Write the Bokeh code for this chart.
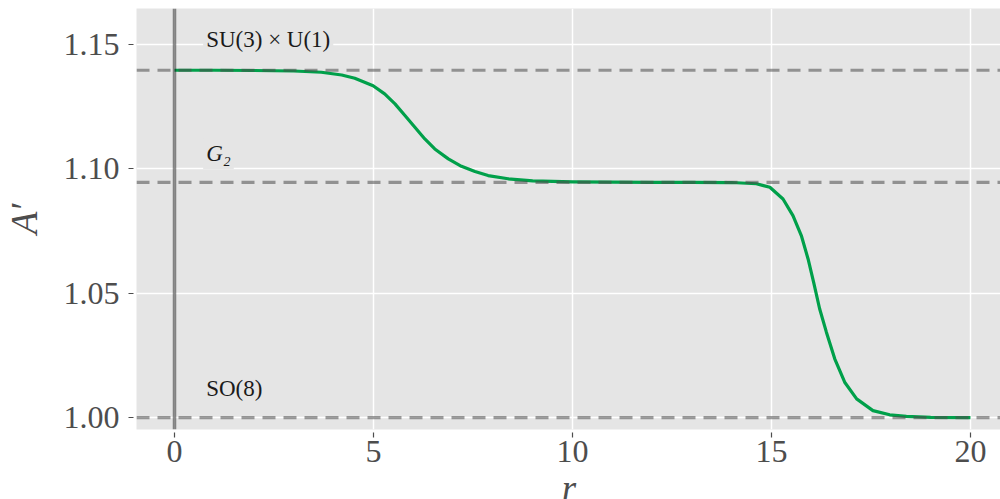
from bokeh.plotting import figure
from bokeh.models import Span, Label, Range1d, FixedTicker
from bokeh.embed import file_html
from bokeh.resources import INLINE

# flow of A' along the domain-wall coordinate r
r_vals = [0, 1, 2, 3, 3.69, 4.20, 4.53, 4.99, 5.28, 5.54, 5.79, 6.04, 6.29,
          6.54, 6.88, 7.21, 7.55, 7.88, 8.38, 9, 10, 11, 12, 13, 14, 14.62,
          14.96, 15.29, 15.54, 15.75, 15.92, 16.06, 16.21, 16.38, 16.59,
          16.84, 17.14, 17.55, 17.97, 18.39, 19, 20]
a_vals = [1.1395, 1.1395, 1.1394, 1.1392, 1.1387, 1.1376, 1.1363, 1.1333,
          1.1300, 1.1260, 1.1213, 1.1166, 1.1119, 1.1079, 1.1039, 1.1009,
          1.0988, 1.0972, 1.0959, 1.0951, 1.0947, 1.0946, 1.0945, 1.0945,
          1.0944, 1.0939, 1.0925, 1.0878, 1.0811, 1.0731, 1.0637, 1.0543,
          1.0437, 1.0343, 1.0236, 1.0142, 1.0075, 1.0028, 1.0011, 1.0005,
          1.0001, 1.0000]

# fixed points and their names
levels = [1.1395, 1.0945, 1.0]
level_names = ["SU(3) × U(1)", "G₂", "SO(8)"]
level_label_y = [1.1518, 1.1060, 1.0117]
level_label_style = ["normal", "italic", "normal"]
label_x = 0.72

x_ticks = [0, 5, 10, 15, 20]
y_ticks = [1.00, 1.05, 1.10, 1.15]

SERIF = "Liberation Serif"

p = figure(frame_width=865, frame_height=421,
           output_backend="svg", toolbar_location=None,
           x_range=Range1d(-0.955, 20.78), y_range=Range1d(0.9952, 1.1643),
           min_border_left=135, min_border_right=0,
           min_border_top=8, min_border_bottom=70)

p.background_fill_color = "#e5e5e5"
p.border_fill_color = "white"
p.outline_line_color = None

for ax in (p.xaxis[0], p.yaxis[0]):
    ax.axis_line_color = None
    ax.major_tick_in = -3
    ax.major_tick_out = 8
    ax.major_tick_line_color = "#4d4d4d"
    ax.major_tick_line_width = 1.2
    ax.minor_tick_line_color = None
    ax.major_label_text_font = SERIF
    ax.major_label_text_font_size = "32px"
    ax.major_label_text_color = "#4d4d4d"
    ax.axis_label_text_font = SERIF
    ax.axis_label_text_font_size = "37px"
    ax.axis_label_text_font_style = "italic"
    ax.axis_label_text_color = "#4d4d4d"

p.xaxis.ticker = FixedTicker(ticks=x_ticks)
p.yaxis.ticker = FixedTicker(ticks=y_ticks)
p.xaxis.major_label_overrides = {t: str(t) for t in x_ticks}
p.yaxis.major_label_overrides = {t: f"{t:.2f}" for t in y_ticks}
p.xaxis.major_label_standoff = 3
p.yaxis.major_label_standoff = 9
p.xaxis.axis_label = "r"
p.yaxis.axis_label = "A′"
p.xaxis.axis_label_standoff = 3
p.yaxis.axis_label_standoff = 16

p.xgrid.ticker = FixedTicker(ticks=x_ticks)
p.ygrid.ticker = FixedTicker(ticks=y_ticks)
for g in (p.xgrid[0], p.ygrid[0]):
    g.grid_line_color = "white"
    g.grid_line_width = 1.5

# the flow itself
p.line(r_vals, a_vals, line_color="#00a04a", line_width=3.2,
       line_join="round")

# r = 0 marker
p.add_layout(Span(location=0, dimension="height", line_color="#1a1a1a",
                  line_alpha=0.5, line_width=3.5))

# dashed lines at the fixed points
for lv in levels:
    p.add_layout(Span(location=lv, dimension="width", line_color="#4d4d4d",
                      line_alpha=0.55, line_width=3.2, line_dash="13 8"))

for name, ly, st in zip(level_names, level_label_y, level_label_style):
    p.add_layout(Label(x=label_x, y=ly, text=name, text_align="left",
                       text_baseline="middle", text_font=SERIF,
                       text_font_size="23px", text_font_style=st,
                       text_color="#1a1a1a",
                       background_fill_color="#e5e5e5", padding=3))

open("out.html", "w").write(file_html(p, INLINE))
